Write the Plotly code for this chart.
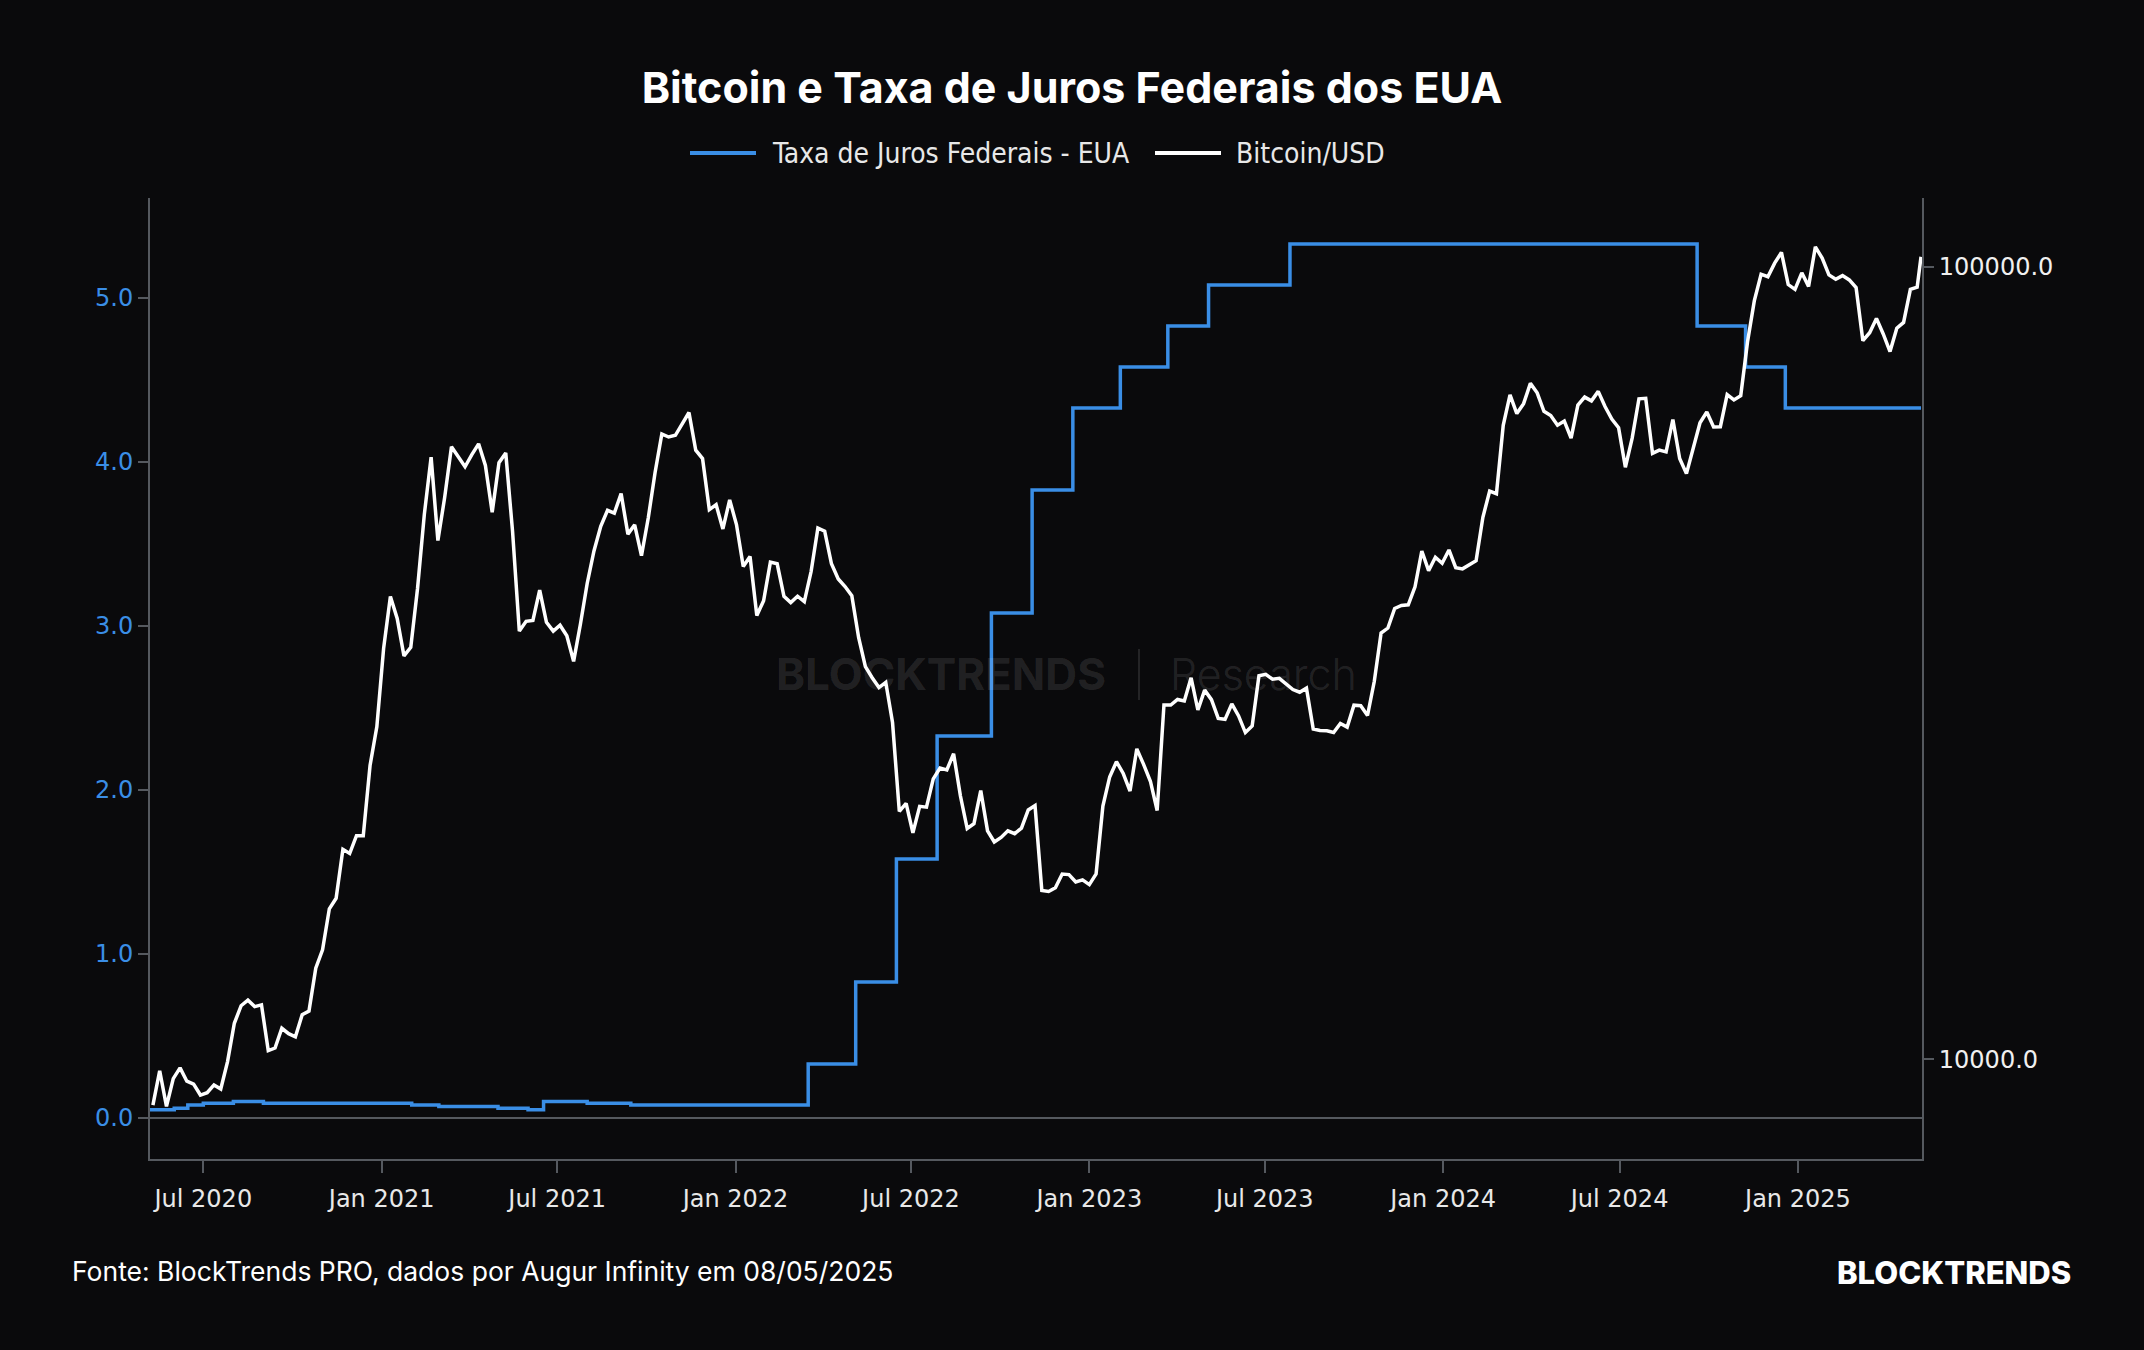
import pandas as pd
import plotly.graph_objects as go

# ---------------- data ----------------
# US effective federal funds rate (%), change points (step chart)
rate_dates = ["2020-05-07", "2020-06-01", "2020-06-15", "2020-07-01", "2020-08-01", "2020-09-01",
              "2021-01-15", "2021-02-01", "2021-03-01", "2021-05-01", "2021-06-01", "2021-06-17",
              "2021-08-01", "2021-09-15", "2022-03-17", "2022-05-05", "2022-06-16", "2022-07-28",
              "2022-09-22", "2022-11-03", "2022-12-15", "2023-02-02", "2023-03-23", "2023-05-04",
              "2023-07-27", "2024-09-19", "2024-11-08", "2024-12-19", "2025-05-08"]
rate_values = [0.05, 0.06, 0.08, 0.09, 0.10, 0.09,
               0.09, 0.08, 0.07, 0.06, 0.05, 0.10,
               0.09, 0.08, 0.33, 0.83, 1.58, 2.33,
               3.08, 3.83, 4.33, 4.58, 4.83, 5.08,
               5.33, 4.83, 4.58, 4.33, 4.33]

# Bitcoin/USD weekly closes (Sundays) from 2020-05-10
btc_start = "2020-05-10"
btc_2020 = [8750, 9670, 8720, 9450, 9750, 9380, 9300, 9010, 9070, 9280, 9170, 9930,
            11100, 11680, 11870, 11650, 11710, 10250, 10330, 10940, 10770,
            10670, 11380, 11500, 13030, 13740, 15480, 15960, 18400, 18180,
            19150, 19150, 23480, 26270]
btc_2021 = [33000, 38360, 36000, 32290, 33100, 39270, 48720, 57540, 45140,
            51200, 59300, 57520, 55950, 57960, 59800, 56150, 49000,
            56600, 58230, 46400, 34700, 35700, 35800, 39100, 35600, 34700,
            35300, 34240, 31780, 35400, 39850, 43800, 47050, 49300, 48900,
            51750, 46000, 47260, 43200, 48200, 54970, 61550, 61000, 61300,
            63300, 65500, 58700, 57300, 49400, 50100, 46700, 50800]
btc_2022 = [47300, 41860, 43100, 36300, 37900, 42400, 42200, 38400, 37700,
            38400, 37800, 41260, 46820, 46400, 42200, 40380, 39500,
            38470, 34060, 31300, 30300, 29450, 29900, 26600, 20550, 21030,
            19300, 20850, 20800, 22580, 23300, 23180, 24300, 21500, 19550,
            19830, 21830, 19420, 18800, 19050, 19420, 19260, 19570, 20630,
            20900, 16330, 16280, 16460, 17130, 17100, 16740, 16840]
btc_2023 = [16610, 17130, 20870, 22710, 23740, 22940, 21800, 24640, 23560,
            22430, 20600, 28000, 27990, 28450, 28330, 30300, 27590, 29230,
            28430, 26920, 26850, 28080, 27120, 25840, 26340, 30480,
            30600, 30170, 30250, 29800, 29280, 29050, 29400, 26100, 26000,
            25970, 25840, 26530, 26250, 27980, 27930, 27150, 29990, 34500,
            35010, 37060, 37380, 37460, 39470, 43790, 41360, 43010, 42270]
btc_2024 = [43930, 41730, 41580, 42030, 42580, 48300, 52140, 51730,
            63100, 68960, 65300, 67210, 71290, 69360, 65740, 64940, 63120,
            63900, 60800, 66940, 68500, 67750, 69650, 66650, 64260, 62680,
            55860, 60800, 68160, 68250, 58160, 58720, 58420, 64180,
            57300, 54840, 59130, 63580, 65600, 62820, 62850, 69000, 67940,
            68770, 80400, 90600, 97900, 97200, 101100, 104300, 95000, 93700]
btc_2025 = [98300, 94500, 106000, 102600, 97700, 96500, 97500, 96300,
            94200, 80700, 82600, 86100, 82300, 78200, 83700, 85100, 93700,
            94300]
btc_last_date = "2025-05-08"
btc_last = 103000

x_range = ["2020-05-07", "2025-05-09"]
left_ticks = [0, 1, 2, 3, 4, 5]
right_ticks = [10000, 100000]

title_text = "Bitcoin e Taxa de Juros Federais dos EUA"
rate_name = "Taxa de Juros Federais - EUA"
btc_name = "Bitcoin/USD"
source_text = "Fonte: BlockTrends PRO, dados por Augur Infinity em 08/05/2025"

# ---------------- build ----------------
btc_vals = btc_2020 + btc_2021 + btc_2022 + btc_2023 + btc_2024 + btc_2025
btc_dates = list(pd.date_range(btc_start, periods=len(btc_vals), freq="W-SUN"))
btc_dates.append(pd.Timestamp(btc_last_date))
btc_vals.append(btc_last)

BG = "#0a0a0c"
BLUE = "#3a8ee6"
WHITE = "#ffffff"
AXIS = "#55595f"
TICKFONT = "DejaVu Sans, Verdana, sans-serif"
LEGFONT = "DejaVu Sans Condensed, Liberation Sans Narrow, Roboto Condensed, sans-serif"

W, H = 2144, 1350
L, R, T, B = 150, 222, 198, 191
PW, PH = W - L - R, H - T - B


def px(x):
    return (x - L) / PW


def py(y):
    return (H - B - y) / PH


fig = go.Figure()
fig.add_trace(go.Scatter(x=pd.to_datetime(rate_dates), y=rate_values, name=rate_name,
                         mode="lines", line=dict(color=BLUE, width=3.5, shape="hv"),
                         yaxis="y", showlegend=False))
fig.add_trace(go.Scatter(x=btc_dates, y=btc_vals, name=btc_name, mode="lines",
                         line=dict(color=WHITE, width=3.5), yaxis="y2", showlegend=False))

fig.update_layout(
    width=W, height=H,
    paper_bgcolor=BG, plot_bgcolor=BG,
    margin=dict(l=L, r=R, t=T, b=B),
    title=dict(text="<b>" + title_text + "</b>", x=0.5, xref="container", xanchor="center",
               y=1 - 88 / H, yref="container", yanchor="middle",
               font=dict(family="Inter", size=43, color="#ffffff")),
    showlegend=False,
    xaxis=dict(type="date", range=x_range, showgrid=False, zeroline=False,
               showline=True, linecolor=AXIS, linewidth=2,
               ticks="outside", ticklen=12, tickcolor=AXIS, tickwidth=2,
               dtick="M6", tick0="2020-07-01", tickformat="%b %Y", ticklabelstandoff=5,
               tickfont=dict(family=TICKFONT, size=24, color="#e8e8e8")),
    yaxis=dict(range=[-0.25, 5.61], tickvals=left_ticks, tickformat=".1f",
               showgrid=False, zeroline=True, zerolinecolor=AXIS, zerolinewidth=2,
               showline=True, linecolor=AXIS, linewidth=2,
               ticks="outside", ticklen=10, tickcolor=AXIS, tickwidth=2,
               tickfont=dict(family=TICKFONT, size=24, color=BLUE)),
    yaxis2=dict(type="log", range=[3.874, 5.087], overlaying="y", side="right",
                tickvals=right_ticks, tickformat=".1f", showgrid=False, zeroline=False,
                showline=True, linecolor=AXIS, linewidth=2,
                ticks="outside", ticklen=10, tickcolor=AXIS, tickwidth=2,
                tickfont=dict(family=TICKFONT, size=24, color="#f0f0f0")),
)

# legend (drawn manually to match long swatches)
leg_y = py(153)
for (x0, x1, tx, name, col) in [(690, 756, 770, rate_name, BLUE),
                                (1155, 1221, 1234, btc_name, WHITE)]:
    fig.add_shape(type="line", xref="paper", yref="paper", x0=px(x0), x1=px(x1),
                  y0=leg_y, y1=leg_y, line=dict(color=col, width=4))
    fig.add_annotation(x=px(tx), y=leg_y, xref="paper", yref="paper", showarrow=False,
                       text=name, xanchor="left", yanchor="middle",
                       font=dict(family=LEGFONT, size=28, color="#e8e8e8"))

# watermark
wm = "rgba(255,255,255,0.11)"
fig.add_annotation(x=px(941), y=py(674), xref="paper", yref="paper", showarrow=False,
                   text="<b>BLOCKTRENDS</b>", font=dict(family="Inter", size=44, color=wm),
                   xanchor="center", yanchor="middle")
fig.add_annotation(x=px(1263), y=py(674), xref="paper", yref="paper", showarrow=False,
                   text="Research", font=dict(family="Inter", size=43, color=wm, weight=300),
                   xanchor="center", yanchor="middle")
fig.add_shape(type="line", xref="paper", yref="paper", x0=px(1139), x1=px(1139),
              y0=py(649), y1=py(700), line=dict(color=wm, width=2))

# footer
fig.add_annotation(x=px(70), y=py(1271), xref="paper", yref="paper", showarrow=False,
                   text=source_text, xanchor="left", yanchor="middle",
                   font=dict(family="Inter", size=26.5, color="#ffffff"))
fig.add_annotation(x=px(2073), y=py(1272), xref="paper", yref="paper", showarrow=False,
                   text="BLOCKTRENDS", xanchor="right", yanchor="middle",
                   font=dict(family="Inter", size=31, color="#ffffff", weight=800))

fig.write_html("out.html")
